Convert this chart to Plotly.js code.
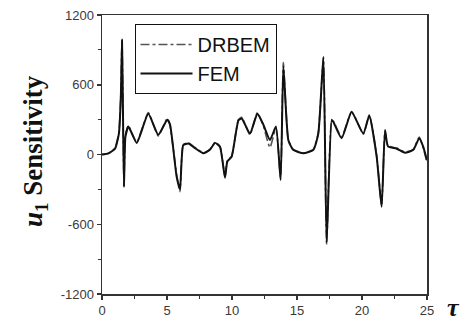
<!DOCTYPE html>
<html><head><meta charset="utf-8">
<script src="https://cdn.plot.ly/plotly-3.0.1.min.js"></script>
<style>body{margin:0;background:#fff}#c{width:465px;height:324px}</style>
</head><body><div id="c"></div>
<script>
const tau = [0,0.5,1.0,1.3,1.45,1.54,1.62,1.69,1.8,2.03,2.67,3.56,4.33,5.02,5.23,5.74,6.0,6.25,6.64,7.15,7.8,8.3,8.7,9.08,9.46,9.64,9.97,10.5,10.75,11.38,11.95,12.4,12.92,13.38,13.74,13.95,14.33,14.7,15.49,16.26,16.64,17.03,17.28,17.67,17.8,18.43,19.2,20.1,20.56,21.13,21.51,21.77,22.0,22.67,23.3,23.95,24.4,24.7,25];
const fem = [0,10,50,180,500,980,300,-280,150,240,100,350,170,300,260,-190,-300,80,95,55,10,40,100,65,-200,-60,-20,295,310,180,350,260,125,240,-220,760,125,40,10,40,180,840,-760,300,280,140,365,180,335,-20,-450,210,70,50,15,40,140,70,-50];
const drbem = [0,10,55,190,520,1000,320,-270,160,250,105,360,160,310,250,-170,-320,85,100,60,15,45,105,70,-190,-55,-15,300,320,170,360,250,60,230,-200,790,130,45,12,45,190,830,-770,290,285,150,370,175,340,-10,-440,200,75,55,20,45,150,60,-70];
const xTicks = [0,5,10,15,20,25];
const xTickText = ['0','5','10','15','20','25'];
const yTicks = [-1200,-600,0,600,1200];
const yTickText = ['-1200','-600','0','600','1200'];

const tickFont = {family:'Liberation Sans, Arial, sans-serif', size:13, color:'#3a3a3a'};
const data = [
  {x:tau, y:drbem, name:'DRBEM', mode:'lines', line:{color:'#555', width:1.6, dash:'dashdot', shape:'spline', smoothing:0.5}},
  {x:tau, y:fem, name:'FEM', mode:'lines', line:{color:'#111', width:2, shape:'spline', smoothing:0.5}}
];
const layout = {
  width:465, height:324,
  margin:{l:102, r:38, t:15, b:30},
  paper_bgcolor:'#fff', plot_bgcolor:'#fff',
  showlegend:true,
  legend:{x:0.1, y:0.968, xanchor:'left', yanchor:'top', bordercolor:'#111', borderwidth:1,
    itemwidth:52,
    font:{family:'Liberation Sans, Arial, sans-serif', size:20, color:'#111'}, bgcolor:'#fff', tracegroupgap:0},
  xaxis:{range:[0,25], tickvals:xTicks, ticktext:xTickText, ticks:'outside', ticklen:4, tickwidth:1.5, tickcolor:'#333',
    showline:true, linecolor:'#333', linewidth:1.5, mirror:true, showgrid:false, zeroline:false,
    tickfont:tickFont, minor:{dtick:2.5, ticks:'outside', ticklen:3, tickcolor:'#333', tickwidth:1.2}},
  yaxis:{range:[-1200,1200], tickvals:yTicks, ticktext:yTickText, ticks:'outside', ticklen:4, tickwidth:1.5, tickcolor:'#333',
    showline:true, linecolor:'#333', linewidth:1.5, mirror:true, showgrid:false, zeroline:false,
    tickfont:tickFont, minor:{dtick:300, ticks:'outside', ticklen:3, tickcolor:'#333', tickwidth:1.2}},
  annotations:[
    {text:'<b><i>u</i><sub>1</sub> Sensitivity</b>', xref:'paper', yref:'paper', x:-0.206, y:0.513,
     xanchor:'center', yanchor:'middle',
     textangle:-90, showarrow:false, font:{family:'Liberation Serif, DejaVu Serif, serif', size:27, color:'#111'}},
    {text:'<b><i>τ</i></b>', xref:'paper', yref:'paper', x:1.08, y:-0.05,
     xanchor:'center', yanchor:'middle',
     showarrow:false, font:{family:'Liberation Serif, DejaVu Serif, serif', size:26, color:'#111'}}
  ]
};
Plotly.newPlot('c', data, layout, {displayModeBar:false, staticPlot:true});
</script></body></html>
